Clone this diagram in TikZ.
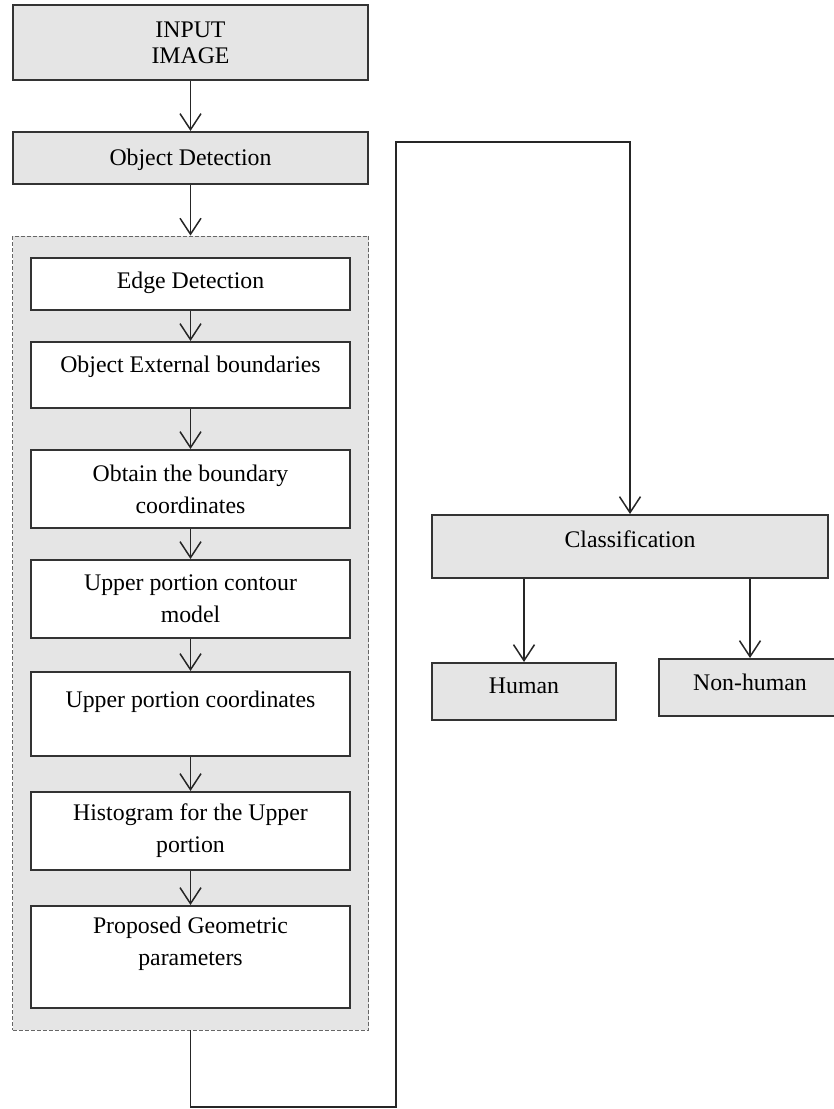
\documentclass[tikz,border=0pt]{standalone}
\usepackage{fontspec}
\setmainfont{Liberation Serif}
\usetikzlibrary{arrows.meta,positioning,fit,backgrounds}

\begin{document}
\begin{tikzpicture}[
    x=0.5pt, y=-0.5pt,
    font=\fontsize{11.9}{16}\selectfont,
    stage/.style={rectangle, draw=black!80, line width=1pt, fill=gray!20, align=center, minimum width=177.5pt, inner ysep=0pt},
    inbox/.style={rectangle, draw=black!80, line width=1pt, fill=white, align=center, minimum width=159.5pt, inner ysep=0pt},
    group/.style={rectangle, draw=black!60, dash pattern=on 2pt off 1pt, fill=gray!20, inner xsep=8.75pt, inner ysep=10.5pt},
    arr/.style={-{Straight Barb[length=8pt,width=10.5pt]}, line width=0.75pt, draw=black!85},
    link/.style={line width=0.7pt, draw=black!85}
]
\useasboundingbox (0,0) rectangle (834,1109);

\node[stage, minimum height=37.5pt] (input) at (190.5,42.5) {INPUT\\[-3pt]IMAGE};
\node[stage, text height=16.5pt, text depth=9.5pt, below=25pt of input] (objdet) {Object Detection};

% feature extraction steps
\node[inbox, text height=15pt, text depth=11pt] (edge) at (190.5,284) {Edge Detection};
\node[inbox, text height=15pt, text depth=18pt, below=15pt of edge] (extb) {Object External boundaries};
\node[inbox, minimum height=39pt, below=20pt of extb] (bcoord) {Obtain the boundary\\coordinates};
\node[inbox, minimum height=39pt, below=15pt of bcoord] (contour) {Upper portion contour\\model};
\node[inbox, text height=17.5pt, text depth=24.5pt, below=16pt of contour] (ucoord) {Upper portion coordinates};
\node[inbox, minimum height=39pt, below=17pt of ucoord] (hist) {Histogram for the Upper\\portion};
\node[inbox, minimum height=51pt, below=17pt of hist] (geom) {Proposed Geometric\\parameters\\\mbox{}};

\begin{scope}[on background layer]
\node[group, fit=(edge)(geom)] (feat) {};
\end{scope}

\node[stage, minimum width=198pt, text height=16pt, text depth=15.5pt] (cls) at (630,546.5) {Classification};
\node[stage, minimum width=92pt, text height=15pt, text depth=13.5pt] (hum) at (524,691.5) {Human};
\node[stage, minimum width=91pt, text height=15.5pt, text depth=13pt] (nonhum) at (750,687.5) {Non-human};

\draw[arr] (input) -- (objdet);
\draw[arr] (objdet.south) -- (objdet.south |- feat.north);
\foreach \a/\b in {edge/extb, extb/bcoord, bcoord/contour, contour/ucoord, ucoord/hist, hist/geom}
    \draw[arr] (\a) -- (\b);

% loop round to the classifier
\coordinate (low) at (396,1107);
\coordinate (high) at (396,142);
\draw[arr] (feat.south) -- (feat.south |- low) -- (low) -- (high) -- (high -| cls.north) -- (cls.north);

\draw[arr] (cls.south -| hum) -- (hum);
\draw[arr] (cls.south -| nonhum) -- (nonhum);
\end{tikzpicture}
\end{document}
